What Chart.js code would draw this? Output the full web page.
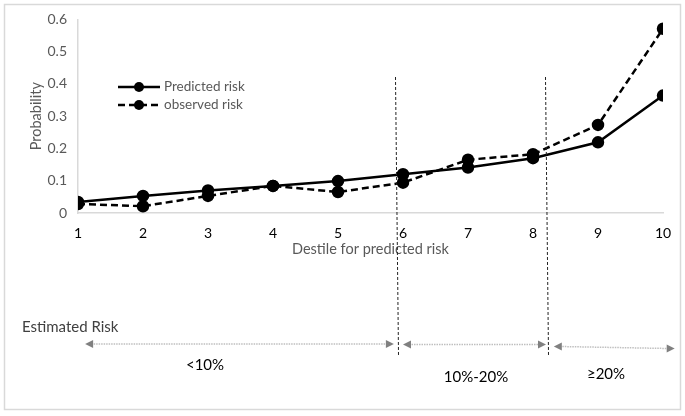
<!DOCTYPE html>
<html>
<head>
<meta charset="utf-8">
<script src="https://cdn.jsdelivr.net/npm/chart.js@4/dist/chart.umd.min.js"></script>
<style>
  html, body { margin: 0; padding: 0; background: #fff; }
  #wrap { position: relative; width: 685px; height: 416px; }
</style>
</head>
<body>
<div id="wrap"><canvas id="myChart" width="685" height="416"></canvas></div>
<script>
// data
var deciles = [1, 2, 3, 4, 5, 6, 7, 8, 9, 10];
var predictedRisk = [0.034, 0.053, 0.070, 0.084, 0.099, 0.120, 0.141, 0.170, 0.219, 0.364];
var observedRisk = [0.028, 0.021, 0.053, 0.084, 0.065, 0.094, 0.165, 0.182, 0.273, 0.571];
var yTicks = [0, 0.1, 0.2, 0.3, 0.4, 0.5, 0.6];

// risk bands below the plot (in decile units)
var bandLabels = ["<10%", "10%-20%", "\u226520%"];
var bandCuts = [5.91, 8.22];

var font = "Lato, 'Open Sans', sans-serif";

function toPoints(vals) {
    return deciles.map(function (d, i) { return { x: d, y: vals[i] }; });
}

var extras = {
    id: "extras",
    afterDraw: function (chart) {
        var ctx = chart.ctx;
        var xs = chart.scales.x;
        var px = function (v) { return xs.getPixelForValue(v); };

        // frame
        ctx.save();
        ctx.strokeStyle = "#d9d9d9";
        ctx.lineWidth = 1.5;
        ctx.strokeRect(4.5, 4.5, 676, 405);

        // vertical cut lines
        ctx.strokeStyle = "#222";
        ctx.lineWidth = 1;
        ctx.setLineDash([3, 2]);
        bandCuts.forEach(function (c, i) {
            var x = Math.round(px(c)) + 0.5;
            ctx.beginPath();
            ctx.moveTo(x - 2, 77);
            ctx.lineTo(x + 1, 355);
            ctx.stroke();
        });
        ctx.setLineDash([]);

        // legend
        var ds = chart.data.datasets;
        ds.forEach(function (d, i) {
            var y = 87 + i * 18;
            ctx.strokeStyle = "#000";
            ctx.lineWidth = 2.5;
            ctx.setLineDash(d.borderDash || []);
            ctx.beginPath();
            ctx.moveTo(118, y);
            ctx.lineTo(160, y);
            ctx.stroke();
            ctx.setLineDash([]);
            ctx.fillStyle = "#000";
            ctx.beginPath();
            ctx.arc(139, y, 5, 0, Math.PI * 2);
            ctx.fill();
            ctx.fillStyle = "#595959";
            ctx.font = "13.5px " + font;
            ctx.textBaseline = "middle";
            ctx.textAlign = "left";
            ctx.fillText(d.label, 164, y);
        });

        // estimated risk annotation
        ctx.fillStyle = "#404040";
        ctx.font = "15px " + font;
        ctx.textAlign = "left";
        ctx.fillText("Estimated Risk", 22, 327);

        var edges = [[1.11, 5.86], [6.0, 8.2], [8.32, 10.18]];
        var arrowY = [344, 344.5, 346.5];
        var labelPos = [[205, 365], [476, 377], [606, 374]];
        edges.forEach(function (e, i) {
            var x1 = px(e[0]), x2 = px(e[1]), y = arrowY[i];
            var y2 = i === 2 ? y + 2 : y;
            ctx.strokeStyle = "#bfbfbf";
            ctx.lineWidth = 1.5;
            ctx.setLineDash([1.5, 1]);
            ctx.beginPath();
            ctx.moveTo(x1 + 6, y);
            ctx.lineTo(x2 - 6, y2);
            ctx.stroke();
            ctx.setLineDash([]);
            ctx.fillStyle = "#808080";
            ctx.beginPath();
            ctx.moveTo(x1, y);
            ctx.lineTo(x1 + 8, y - 4);
            ctx.lineTo(x1 + 8, y + 4);
            ctx.closePath();
            ctx.fill();
            ctx.beginPath();
            ctx.moveTo(x2, y2);
            ctx.lineTo(x2 - 8, y2 - 4);
            ctx.lineTo(x2 - 8, y2 + 4);
            ctx.closePath();
            ctx.fill();

            ctx.fillStyle = "#000";
            ctx.font = "15px " + font;
            ctx.textAlign = "center";
            ctx.fillText(bandLabels[i], labelPos[i][0], labelPos[i][1]);
        });
        ctx.restore();
    }
};

var ctx = document.getElementById("myChart").getContext("2d");
var myChart = new Chart(ctx, {
    type: "line",
    data: {
        datasets: [
            {
                label: "Predicted risk",
                data: toPoints(predictedRisk),
                borderColor: "#000",
                backgroundColor: "#000",
                borderWidth: 2.5,
                pointRadius: 5,
                pointHoverRadius: 5,
                tension: 0,
            },
            {
                label: "observed risk",
                data: toPoints(observedRisk),
                borderColor: "#000",
                backgroundColor: "#000",
                borderWidth: 2.5,
                borderDash: [7, 4],
                pointRadius: 5,
                pointHoverRadius: 5,
                tension: 0,
            },
        ],
    },
    options: {
        responsive: false,
        animation: false,
        layout: { padding: { left: 28, right: 22, top: 16, bottom: 150 } },
        plugins: {
            legend: { display: false },
            tooltip: { enabled: false },
        },
        scales: {
            x: {
                type: "linear",
                min: 1,
                max: 10,
                afterBuildTicks: function (s) {
                    s.ticks = deciles.map(function (d) { return { value: d }; });
                },
                grid: { display: false, drawTicks: false },
                border: { color: "#d9d9d9", width: 1.5 },
                ticks: { color: "#000", font: { family: font, size: 14 }, padding: 12 },
                title: {
                    display: true,
                    text: "Destile for predicted risk",
                    color: "#595959",
                    font: { family: font, size: 14.5 },
                    padding: { top: -4, bottom: 8 },
                },
                afterFit: function (s) { s.height = 53; },
            },
            y: {
                min: 0,
                max: 0.6,
                afterBuildTicks: function (s) {
                    s.ticks = yTicks.map(function (v) { return { value: v }; });
                },
                grid: { display: false, drawTicks: false },
                border: { color: "#d9d9d9", width: 1.5 },
                ticks: { color: "#595959", font: { family: font, size: 14 }, padding: 11 },
                title: {
                    display: true,
                    text: "Probability",
                    color: "#595959",
                    font: { family: font, size: 14.5 },
                    padding: { top: 0, bottom: 4 },
                },
                afterFit: function (s) { s.width = 50; },
            },
        },
    },
    plugins: [extras],
});
</script>
</body>
</html>
